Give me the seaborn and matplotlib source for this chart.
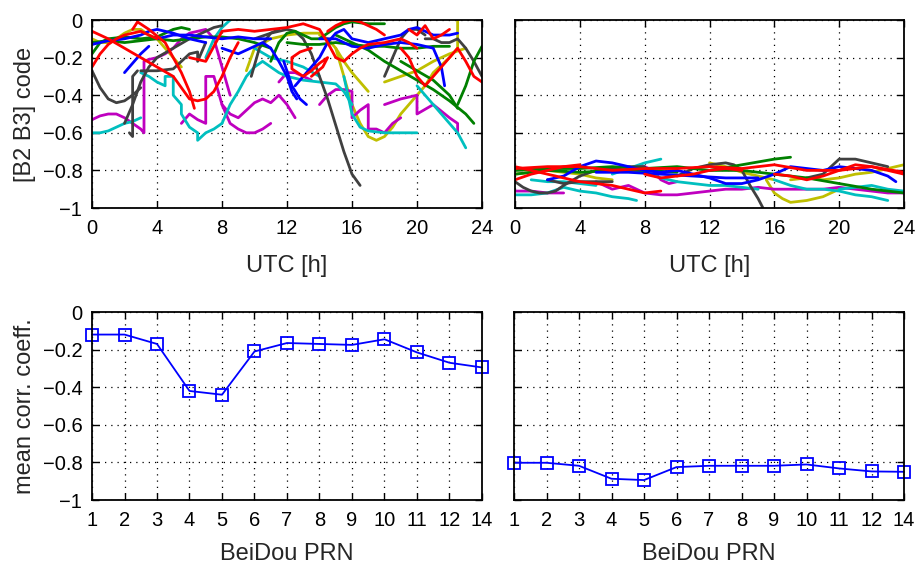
import numpy as np
import pandas as pd
import matplotlib
matplotlib.use("Agg")
import matplotlib.pyplot as plt
import seaborn as sns

# ---------------- data ----------------
C_B = (0, 0, 1)
C_G = (0, 0.5, 0)
C_R = (1, 0, 0)
C_C = (0, 0.75, 0.75)
C_M = (0.75, 0, 0.75)
C_Y = (0.75, 0.75, 0)
C_K = (0.25, 0.25, 0.25)

# left top panel: time series segments (hours, corr. coeff.)
left_gray = [
    ([0, 0.5, 1, 1.5, 2, 2.5, 3], [-0.27, -0.36, -0.42, -0.44, -0.43, -0.40, -0.36]),
    ([2, 2.5, 3, 3.5, 4, 5, 6, 7, 7.5, 8], [-0.55, -0.45, -0.33, -0.25, -0.20, -0.15, -0.10, -0.06, -0.04, -0.03]),
    ([2.3, 2.5, 2.5, 2.8], [-0.60, -0.62, -0.30, -0.27]),
    ([3, 4, 5, 5.5, 6, 6.5, 6.5, 7], [-0.27, -0.27, -0.26, -0.22, -0.18, -0.17, -0.22, -0.12]),
    ([10, 11, 11.5, 12, 12.5, 13, 13.5, 14, 14.5, 15, 15.5, 16, 16.5],
     [-0.10, -0.07, -0.06, -0.05, -0.06, -0.10, -0.18, -0.30, -0.42, -0.56, -0.70, -0.82, -0.88]),
    ([9.8, 10.3, 11, 11.5], [-0.30, -0.15, -0.07, -0.05]),
    ([18, 18.5, 19, 19.5, 20, 20.5], [-0.30, -0.20, -0.10, -0.05, -0.05, -0.08]),
    ([20.5, 21, 21.5, 22, 22.5, 23, 23.5, 24], [-0.10, -0.10, -0.12, -0.12, -0.10, -0.15, -0.22, -0.30]),
]
left_red = [
    ([0, 0.5, 1, 1.5, 2, 2.5, 3, 3.5, 4], [-0.25, -0.18, -0.13, -0.10, -0.08, -0.07, -0.06, -0.08, -0.10]),
    ([0, 1, 2, 3, 4, 5, 5.5, 6, 6.5, 7, 7.5, 8, 8.5, 9],
     [-0.06, -0.10, -0.15, -0.20, -0.25, -0.30, -0.36, -0.42, -0.43, -0.42, -0.38, -0.30, -0.20, -0.12]),
    ([2.5, 2.8, 3.5, 4.5, 5, 5.5, 6, 6.3], [-0.05, -0.01, -0.05, -0.12, -0.20, -0.28, -0.38, -0.47]),
    ([6, 7, 8, 9, 10, 11, 12, 13, 14, 14.5, 15], [-0.20, -0.22, -0.06, -0.05, -0.06, -0.05, -0.04, -0.02, -0.05, -0.12, -0.20]),
    ([13.5, 12.8, 12.3, 12.3, 13, 13.5, 14, 14.5, 14.2, 13.5], [-0.15, -0.17, -0.20, -0.26, -0.30, -0.27, -0.23, -0.20, -0.25, -0.30]),
    ([14.5, 15, 15.5, 16, 16.5, 17, 17.5, 18], [-0.06, -0.03, -0.01, 0.0, -0.01, -0.03, -0.05, -0.08]),
    ([15, 15.5, 16, 16.5, 17, 18, 19, 19.5, 20], [-0.20, -0.22, -0.18, -0.15, -0.13, -0.12, -0.10, -0.12, -0.15]),
    ([19, 19.5, 20, 20.5, 21, 21.5, 22, 22.5, 23, 23.5, 24], [-0.15, -0.20, -0.30, -0.35, -0.30, -0.25, -0.20, -0.15, -0.22, -0.30, -0.33]),
    ([19.5, 20, 20.5, 21, 21.5, 22], [-0.05, -0.08, -0.03, -0.10, -0.08, -0.05]),
]
left_blue = [
    ([0, 1, 2, 3, 3.5, 4, 5, 6, 7], [-0.13, -0.11, -0.10, -0.08, -0.06, -0.05, -0.07, -0.10, -0.12]),
    ([2, 2.5, 3, 3.5], [-0.28, -0.23, -0.18, -0.14]),
    ([8, 9, 10, 10.5, 11, 11.5, 12, 12.3, 12.6], [-0.15, -0.18, -0.14, -0.12, -0.15, -0.22, -0.30, -0.38, -0.42]),
    ([12.5, 13, 13.5, 14, 14.5, 15, 15.5, 16, 17, 18, 19, 19.5, 20, 21, 22, 22.5],
     [-0.35, -0.30, -0.25, -0.20, -0.12, -0.07, -0.05, -0.10, -0.12, -0.10, -0.08, -0.05, -0.04, -0.08, -0.08, -0.07]),
    ([14, 15, 16, 17, 18, 19, 20, 21, 21.5, 21.7], [-0.10, -0.10, -0.14, -0.15, -0.13, -0.12, -0.13, -0.15, -0.25, -0.35]),
    ([11.8, 12.3, 12.8, 13.2], [-0.22, -0.35, -0.42, -0.45]),
    ([4, 5, 6, 7, 8, 9, 10, 11], [-0.10, -0.08, -0.08, -0.09, -0.10, -0.09, -0.10, -0.10]),
]
left_green = [
    ([0, 0.5, 1, 2, 3, 4, 5, 5.5, 6], [-0.18, -0.12, -0.10, -0.09, -0.10, -0.09, -0.05, -0.04, -0.05]),
    ([0, 1, 2, 3, 4, 5, 6, 7, 8, 9, 10, 11], [-0.12, -0.11, -0.12, -0.11, -0.10, -0.11, -0.10, -0.09, -0.09, -0.10, -0.12, -0.15]),
    ([11, 11.5, 12, 12.5, 13, 13.5, 14, 14.5, 15, 15.5, 16, 17, 18],
     [-0.22, -0.12, -0.07, -0.06, -0.08, -0.10, -0.10, -0.07, -0.04, -0.02, -0.01, -0.02, -0.02]),
    ([15, 16, 17, 18, 19, 20, 21, 22, 23, 23.5], [-0.08, -0.12, -0.16, -0.22, -0.27, -0.32, -0.37, -0.43, -0.50, -0.55]),
    ([19, 20, 21, 22, 22.5], [-0.22, -0.27, -0.32, -0.40, -0.47]),
    ([22.5, 23, 23.5, 24], [-0.45, -0.35, -0.22, -0.14]),
    ([12, 13, 14, 15, 16, 17, 18, 19, 20, 21, 22], [-0.12, -0.13, -0.13, -0.12, -0.13, -0.14, -0.14, -0.15, -0.15, -0.14, -0.14]),
]
left_cyan = [
    ([0, 0.5, 1, 1.5, 2, 2.5, 3], [-0.60, -0.60, -0.59, -0.57, -0.55, -0.54, -0.52]),
    ([3, 3.5, 4, 4.5, 4.5, 5, 5, 5.5, 5.5, 6, 6.5, 6.5, 7, 7.5, 8],
     [-0.28, -0.30, -0.33, -0.35, -0.30, -0.30, -0.40, -0.45, -0.50, -0.57, -0.60, -0.64, -0.60, -0.58, -0.55]),
    ([8, 8.5, 9, 9.5, 10, 10.5, 11, 11.5, 12, 13, 14, 15, 15.5, 16],
     [-0.55, -0.45, -0.38, -0.30, -0.25, -0.22, -0.25, -0.28, -0.30, -0.32, -0.33, -0.34, -0.38, -0.45]),
    ([7, 7.5, 8, 8.5], [-0.20, -0.10, -0.04, 0.0]),
    ([15.5, 16, 16.5, 17, 18, 19, 19.5, 20], [-0.30, -0.50, -0.57, -0.59, -0.60, -0.60, -0.60, -0.60]),
    ([20, 20.5, 21, 21.5, 22, 22.5, 23], [-0.35, -0.40, -0.45, -0.50, -0.55, -0.60, -0.68]),
    ([10, 11, 12, 13, 14], [-0.15, -0.20, -0.22, -0.25, -0.30]),
]
left_magenta = [
    ([0, 0.5, 1, 1.5, 2, 2.5, 3, 3.2, 3.2, 3.5], [-0.53, -0.51, -0.50, -0.50, -0.52, -0.55, -0.58, -0.60, -0.22, -0.21]),
    ([3.5, 4, 4.5, 5, 5.5, 6, 6.5, 7, 7.5, 8, 8.5], [-0.21, -0.20, -0.18, -0.15, -0.10, -0.07, -0.06, -0.05, -0.10, -0.25, -0.40]),
    ([5.5, 6, 6.5, 7, 7, 7.5, 8, 8.5, 9, 9.5, 10, 10.5, 11],
     [-0.55, -0.50, -0.53, -0.55, -0.30, -0.30, -0.45, -0.55, -0.58, -0.60, -0.60, -0.58, -0.55]),
    ([8, 8.5, 9, 9.5, 10, 10.5, 11, 11.5, 12, 12.5], [-0.45, -0.50, -0.52, -0.48, -0.44, -0.42, -0.44, -0.40, -0.45, -0.52]),
    ([11.5, 12, 12.5, 13, 13.5], [-0.33, -0.28, -0.28, -0.30, -0.32]),
    ([14, 14.5, 15, 15.5, 16, 16, 16.5, 17, 17, 17.5, 18, 18.5, 19],
     [-0.45, -0.40, -0.37, -0.37, -0.38, -0.52, -0.48, -0.45, -0.58, -0.58, -0.60, -0.55, -0.52]),
    ([18, 19, 20, 20, 21, 22, 22.5, 22.5], [-0.45, -0.42, -0.40, -0.50, -0.45, -0.52, -0.55, -0.60]),
]
left_yellow = [
    ([0, 0.5, 1, 1.5, 2, 2.5, 3, 3.5, 4, 4.5, 5, 5.5],
     [-0.10, -0.12, -0.12, -0.10, -0.07, -0.05, -0.05, -0.08, -0.10, -0.15, -0.20, -0.25]),
    ([15, 15.5, 16, 16.5, 17, 17.5, 18, 18.5, 19, 19.5, 20, 20.5, 21, 21.5, 22, 22.5, 22.5],
     [-0.15, -0.30, -0.45, -0.55, -0.62, -0.64, -0.62, -0.57, -0.50, -0.45, -0.40, -0.35, -0.28, -0.24, -0.20, -0.15, 0.0]),
    ([14, 14.5, 15, 15.5, 16, 16.5, 17], [-0.08, -0.10, -0.15, -0.22, -0.28, -0.33, -0.38]),
    ([18, 19, 20, 21, 22, 23], [-0.33, -0.30, -0.27, -0.22, -0.18, -0.15]),
    ([9.5, 10, 11, 12, 13, 14], [-0.27, -0.15, -0.10, -0.08, -0.07, -0.07]),
]

# right top panel
right_red = [
    ([0, 2, 4, 6, 8, 10, 12, 14, 16, 18, 20, 22, 24], [-0.79, -0.78, -0.78, -0.80, -0.79, -0.79, -0.78, -0.79, -0.77, -0.80, -0.80, -0.78, -0.81]),
    ([0, 1, 2, 3, 4, 5, 6, 7, 8, 9], [-0.78, -0.80, -0.82, -0.84, -0.86, -0.87, -0.88, -0.90, -0.92, -0.91]),
    ([0, 1, 2, 3, 4], [-0.85, -0.82, -0.80, -0.78, -0.77]),
    ([8, 9, 10, 11, 12, 13, 14], [-0.82, -0.84, -0.83, -0.82, -0.80, -0.79, -0.80]),
    ([16, 17, 18, 19, 20, 21, 22, 23, 24], [-0.82, -0.83, -0.85, -0.83, -0.80, -0.77, -0.78, -0.80, -0.82]),
]
right_blue = [
    ([2, 3, 4, 5, 6, 7, 8, 9, 10], [-0.85, -0.83, -0.78, -0.75, -0.76, -0.78, -0.80, -0.81, -0.80]),
    ([10, 11, 12, 13, 14, 15, 16, 17, 18, 19, 20, 21, 22, 23, 23.5],
     [-0.80, -0.82, -0.84, -0.87, -0.87, -0.85, -0.82, -0.78, -0.79, -0.80, -0.78, -0.79, -0.80, -0.83, -0.86]),
    ([5, 7, 9, 11, 13, 15], [-0.81, -0.81, -0.82, -0.83, -0.84, -0.84]),
]
right_gray = [
    ([0, 0.5, 1, 1.5, 2, 2.5, 3, 4, 5, 6, 7, 8], [-0.86, -0.89, -0.91, -0.92, -0.92, -0.91, -0.88, -0.83, -0.80, -0.79, -0.78, -0.78]),
    ([10, 11, 12, 13, 13.5, 14, 14.5, 15, 15.3], [-0.83, -0.79, -0.77, -0.76, -0.77, -0.80, -0.88, -0.95, -1.0]),
    ([18, 19, 20, 21, 22, 23], [-0.84, -0.82, -0.74, -0.74, -0.76, -0.78]),
    ([2, 3, 4, 5, 6], [-0.85, -0.87, -0.86, -0.86, -0.86]),
]
right_green = [
    ([0, 2, 4, 6, 8, 10, 12, 14, 16, 17], [-0.80, -0.79, -0.79, -0.78, -0.79, -0.78, -0.80, -0.77, -0.74, -0.73]),
    ([12, 14, 16, 18, 20, 22, 24], [-0.80, -0.80, -0.82, -0.84, -0.87, -0.90, -0.92]),
    ([0, 2, 4, 6, 8, 10], [-0.82, -0.80, -0.81, -0.80, -0.80, -0.81]),
]
right_cyan = [
    ([0, 1, 2, 3, 3.5, 4, 5, 6, 7, 7.5], [-0.93, -0.93, -0.92, -0.89, -0.90, -0.91, -0.92, -0.94, -0.95, -0.96]),
    ([6, 7, 8, 9], [-0.82, -0.79, -0.76, -0.74]),
    ([7, 8, 9, 10, 11, 12, 13, 14, 15], [-0.79, -0.81, -0.84, -0.86, -0.87, -0.88, -0.88, -0.89, -0.90]),
    ([16, 17, 18, 19, 20, 21, 22, 23], [-0.85, -0.88, -0.90, -0.90, -0.91, -0.93, -0.94, -0.96]),
    ([20, 21, 22, 23, 24], [-0.90, -0.89, -0.88, -0.90, -0.91]),
    ([1, 2, 3, 4, 5], [-0.85, -0.86, -0.86, -0.87, -0.88]),
]
right_magenta = [
    ([0, 1, 2, 3], [-0.91, -0.91, -0.92, -0.92]),
    ([5, 6, 7, 8, 9, 10, 11, 12, 13, 14, 15, 16, 17, 18, 19, 20, 21, 22, 23, 24],
     [-0.86, -0.90, -0.88, -0.92, -0.93, -0.93, -0.92, -0.91, -0.90, -0.90, -0.89, -0.90, -0.90, -0.90, -0.90, -0.89, -0.90, -0.91, -0.92, -0.92]),
    ([7, 7.5, 8, 8.5, 9, 9.5, 10], [-0.79, -0.78, -0.78, -0.80, -0.85, -0.87, -0.86]),
]
right_yellow = [
    ([0, 1, 2, 3, 4, 5, 6], [-0.82, -0.81, -0.80, -0.81, -0.82, -0.84, -0.85]),
    ([15.5, 16, 16.5, 17, 18, 19, 20], [-0.85, -0.92, -0.95, -0.97, -0.96, -0.94, -0.90]),
    ([12, 13, 14, 15, 16], [-0.76, -0.78, -0.81, -0.83, -0.85]),
    ([17, 18, 19, 20, 21, 22, 23, 24], [-0.85, -0.84, -0.85, -0.84, -0.82, -0.81, -0.79, -0.77]),
]

# bottom panels: mean correlation coefficient per PRN
prn_labels = ["1", "2", "3", "4", "5", "6", "7", "8", "9", "10", "11", "12", "14"]
mean_left = [-0.12, -0.12, -0.17, -0.42, -0.44, -0.21, -0.165, -0.17, -0.175, -0.145, -0.215, -0.27, -0.295]
mean_right = [-0.802, -0.802, -0.818, -0.887, -0.894, -0.825, -0.818, -0.818, -0.818, -0.811, -0.832, -0.848, -0.850]

y_ticks = [-1, -0.8, -0.6, -0.4, -0.2, 0]
y_ticklabels = ["\u22121", "\u22120.8", "\u22120.6", "\u22120.4", "\u22120.2", "0"]
utc_ticks = [0, 4, 8, 12, 16, 20, 24]

# ---------------- style ----------------
sns.set_style("ticks")
plt.rcParams["font.family"] = ["Liberation Sans", "DejaVu Sans"]
FS_TICK = 14.5
FS_LAB = 17

fig = plt.figure(figsize=(9.15, 5.64), dpi=100)
W, H = 915, 564


def add_ax(l, r, t, b):
    return fig.add_axes([l / W, 1 - b / H, (r - l) / W, (b - t) / H])


ax_tl = add_ax(92, 482, 20, 208)
ax_tr = add_ax(515, 904, 20, 208)
ax_bl = add_ax(92, 482, 312, 500)
ax_br = add_ax(514, 904, 312, 500)


def style(ax):
    ax.set_axisbelow(True)
    ax.grid(True, color="black", linestyle=(0, (1, 4)), linewidth=0.9)
    ax.tick_params(direction="in", length=5, width=1, top=True, right=True,
                   labelsize=FS_TICK, colors="black")
    ax.tick_params(axis="x", pad=8)
    ax.tick_params(axis="y", pad=7)
    for s in ax.spines.values():
        s.set_linewidth(1.3)
        s.set_color("black")
    ax.set_ylim(-1, 0)
    ax.set_yticks(y_ticks)
    ax.set_yticklabels(y_ticklabels)


def draw_segments(ax, segs, color):
    for hrs, vals in segs:
        df = pd.DataFrame({"h": hrs, "v": vals})
        sns.lineplot(data=df, x="h", y="v", ax=ax, color=color, linewidth=2.0,
                     sort=False, estimator=None, legend=False)


for ax, groups in [
    (ax_tl, [(left_yellow, C_Y), (left_magenta, C_M), (left_cyan, C_C), (left_gray, C_K),
             (left_green, C_G), (left_blue, C_B), (left_red, C_R)]),
    (ax_tr, [(right_yellow, C_Y), (right_magenta, C_M), (right_cyan, C_C), (right_gray, C_K),
             (right_green, C_G), (right_blue, C_B), (right_red, C_R)]),
]:
    for segs, col in groups:
        draw_segments(ax, segs, col)
    style(ax)
    ax.set_xlim(0, 24)
    ax.set_xticks(utc_ticks)
    ax.set_xticklabels([str(t) for t in utc_ticks])
    ax.set_xlabel("UTC [h]", fontsize=FS_LAB, labelpad=12)
    ax.set_ylabel("")

pos = np.arange(len(prn_labels))
for ax, vals in [(ax_bl, mean_left), (ax_br, mean_right)]:
    df = pd.DataFrame({"p": pos, "v": vals})
    sns.lineplot(data=df, x="p", y="v", ax=ax, color="blue", linewidth=1.3,
                 marker="s", markersize=8, markerfacecolor="none",
                 markeredgecolor="blue", markeredgewidth=1.3, legend=False)
    style(ax)
    ax.set_xlim(0, len(prn_labels) - 1)
    ax.set_xticks(pos)
    ax.set_xticklabels(prn_labels)
    ax.set_xlabel("BeiDou PRN", fontsize=FS_LAB, labelpad=9)
    ax.set_ylabel("")
    for line in ax.lines:
        line.set_clip_on(False)

for ax in (ax_tr, ax_br):
    ax.set_yticklabels([])

ax_tl.set_ylabel("[B2 B3] code", fontsize=FS_LAB, labelpad=5)
ax_bl.set_ylabel("mean corr. coeff.", fontsize=FS_LAB, labelpad=5)

fig.savefig("out.png", dpi=100)
